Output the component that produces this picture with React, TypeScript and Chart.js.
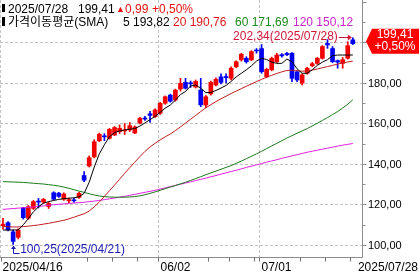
import React, { useEffect, useRef } from "react";
import { Chart, registerables } from "chart.js";

Chart.register(...registerables);

// ---------- data ----------
const dates = [
  "2025/04/16", "2025/04/17", "2025/04/21", "2025/04/22", "2025/04/23", "2025/04/24", "2025/04/25", "2025/04/28", "2025/04/29", "2025/04/30",
  "2025/05/01", "2025/05/02", "2025/05/05", "2025/05/06", "2025/05/07", "2025/05/08", "2025/05/09", "2025/05/12", "2025/05/13", "2025/05/14",
  "2025/05/15", "2025/05/16", "2025/05/19", "2025/05/20", "2025/05/21", "2025/05/22", "2025/05/23", "2025/05/27", "2025/05/28", "2025/05/29",
  "2025/05/30", "2025/06/02", "2025/06/03", "2025/06/04", "2025/06/05", "2025/06/06", "2025/06/09", "2025/06/10", "2025/06/11", "2025/06/12",
  "2025/06/13", "2025/06/16", "2025/06/17", "2025/06/18", "2025/06/20", "2025/06/23", "2025/06/24", "2025/06/25", "2025/06/26", "2025/06/27",
  "2025/06/30", "2025/07/01", "2025/07/02", "2025/07/03", "2025/07/07", "2025/07/08", "2025/07/09", "2025/07/10", "2025/07/11", "2025/07/14",
  "2025/07/15", "2025/07/16", "2025/07/17", "2025/07/18", "2025/07/21", "2025/07/22", "2025/07/23", "2025/07/24", "2025/07/25", "2025/07/28",
];

const opens = [
  109.5, 111.0, 106.5, 103.8, 118.3, 113.2, 118.1, 121.6, 121.2, 119.0,
  125.8, 125.6, 122.6, 121.8, 122.2, 123.5, 134.3, 139.0, 143.5, 151.5,
  153.8, 152.7, 154.3, 156.0, 156.3, 156.8, 155.3, 160.2, 162.6, 164.8,
  163.4, 165.0, 170.0, 174.0, 171.6, 177.0, 180.3, 180.0, 178.0, 176.5,
  169.1, 174.6, 179.0, 183.0, 183.2, 182.3, 188.0, 191.4, 192.2, 191.4,
  196.3, 197.0, 183.1, 186.5, 190.5, 194.0, 194.6, 194.7, 185.5, 179.9,
  184.8, 188.5, 189.7, 192.2, 199.5, 197.0, 191.0, 189.7, 192.2, 201.3,
];
const highs = [
  113.2, 111.5, 107.5, 108.0, 118.6, 119.5, 122.0, 123.0, 123.0, 121.3,
  126.3, 126.0, 125.8, 123.2, 123.0, 126.0, 136.2, 144.0, 152.0, 155.3,
  155.0, 157.6, 158.5, 159.3, 160.0, 160.5, 158.8, 163.0, 163.5, 166.0,
  167.2, 170.5, 173.6, 174.5, 177.0, 182.3, 182.3, 181.0, 181.5, 182.3,
  173.8, 181.0, 182.6, 184.5, 184.5, 188.0, 191.0, 194.7, 193.0, 196.0,
  197.0, 199.0, 187.3, 192.8, 194.7, 194.5, 195.2, 195.0, 186.0, 184.5,
  187.8, 190.2, 192.7, 198.5, 201.4, 198.0, 191.4, 192.6, 200.4, 202.34,
];
const lows = [
  107.8, 107.0, 100.25, 103.0, 112.8, 112.7, 117.5, 118.3, 120.5, 118.0,
  122.3, 123.5, 122.0, 120.9, 121.0, 123.0, 131.3, 138.5, 143.0, 151.0,
  151.5, 152.3, 154.0, 155.0, 154.5, 156.0, 155.0, 159.8, 161.5, 160.5,
  163.0, 164.5, 169.5, 170.5, 171.0, 176.0, 177.0, 177.8, 177.5, 168.3,
  167.8, 174.0, 178.5, 179.5, 180.0, 181.5, 187.5, 190.8, 189.8, 191.0,
  194.7, 184.8, 182.6, 186.0, 190.0, 192.8, 193.5, 180.6, 180.6, 179.0,
  184.3, 188.0, 189.2, 191.8, 197.1, 190.0, 187.3, 187.3, 191.8, 199.0,
];
const closes = [
  110.3, 107.5, 101.8, 107.4, 113.5, 118.9, 121.4, 121.2, 122.5, 120.5,
  122.6, 124.0, 125.2, 122.4, 121.8, 125.5, 132.0, 143.1, 151.0, 154.7,
  153.4, 157.1, 158.0, 157.6, 156.7, 158.9, 158.3, 162.6, 162.2, 164.0,
  166.7, 170.0, 173.2, 171.0, 176.5, 179.8, 177.4, 179.6, 180.8, 169.2,
  173.2, 180.4, 181.8, 180.3, 182.6, 187.3, 190.5, 194.2, 190.5, 195.5,
  195.8, 185.6, 186.7, 192.2, 193.8, 193.4, 194.0, 182.3, 181.5, 184.0,
  187.3, 189.5, 192.2, 198.0, 198.8, 190.5, 190.3, 191.5, 198.42, 199.41,
];

const ma5 = [
  107.4, 107.4, 107.4, 107.4, 110.0, 113.0, 116.4, 118.8, 120.7, 121.4,
  122.0, 122.5, 122.9, 123.1, 123.3, 123.8, 125.5, 131.0, 138.5, 145.0,
  149.5, 153.5, 155.5, 156.3, 156.8, 157.2, 157.5, 158.7, 160.3, 161.9,
  163.5, 165.5, 167.6, 169.1, 171.5, 174.3, 175.8, 178.5, 179.0, 177.4,
  175.3, 175.3, 176.3, 177.5, 178.8, 180.8, 183.0, 184.8, 186.5, 188.5,
  190.8, 192.2, 191.6, 190.3, 189.7, 189.7, 191.8, 190.5, 187.0, 184.8,
  184.8, 186.5, 188.7, 190.3, 191.5, 193.5, 193.8, 193.8, 193.8, 193.82,
];
const ma20 = [
  109.2, 109.0, 108.9, 108.9, 109.1, 109.3, 109.6, 109.9, 110.3, 110.7,
  111.2, 111.7, 112.2, 112.9, 113.7, 114.6, 115.4, 116.8, 118.8, 121.2,
  124.0, 126.8, 129.6, 132.5, 135.4, 138.2, 140.9, 143.6, 146.2, 148.4,
  150.2, 151.9, 153.4, 154.8, 156.5, 158.3, 160.2, 162.1, 164.0, 165.9,
  167.7, 169.3, 170.8, 172.2, 173.5, 174.8, 176.0, 177.2, 178.4, 179.5,
  180.7, 181.8, 182.8, 183.8, 184.7, 185.5, 186.2, 186.3, 186.0, 185.8,
  186.0, 186.4, 186.9, 187.5, 188.1, 188.7, 189.3, 189.9, 190.4, 190.76,
];
const ma60 = [
  131.3, 131.2, 131.1, 131.0, 130.9, 130.7, 130.5, 130.3, 130.1, 129.8,
  129.5, 129.1, 128.6, 128.0, 127.3, 126.6, 126.0, 125.3, 124.7, 124.2,
  123.9, 123.7, 123.6, 123.6, 123.6, 123.7, 123.9, 124.3, 124.8, 125.5,
  126.2, 127.0, 127.8, 128.6, 129.4, 130.2, 131.0, 131.9, 132.8, 133.7,
  134.7, 135.6, 136.5, 137.4, 138.3, 139.2, 140.3, 141.4, 142.6, 143.8,
  145.0, 146.3, 147.6, 148.9, 150.2, 151.5, 152.8, 154.0, 155.2, 156.3,
  157.5, 158.8, 160.1, 161.5, 162.9, 164.4, 165.9, 167.6, 169.5, 171.69,
];
const ma120 = [
  117.6, 117.8, 118.0, 118.2, 118.4, 118.6, 118.8, 119.0, 119.3, 119.6,
  119.9, 120.1, 120.3, 120.5, 120.7, 120.9, 121.1, 121.4, 121.7, 122.0,
  122.4, 122.8, 123.2, 123.6, 124.0, 124.5, 125.0, 125.5, 126.0, 126.5,
  127.0, 127.6, 128.2, 128.8, 129.4, 130.0, 130.6, 131.2, 131.8, 132.4,
  133.0, 133.7, 134.3, 135.0, 135.6, 136.3, 136.9, 137.6, 138.3, 138.9,
  139.6, 140.2, 140.9, 141.5, 142.1, 142.8, 143.4, 144.0, 144.6, 145.2,
  145.8, 146.3, 146.8, 147.3, 147.8, 148.3, 148.8, 149.3, 149.7, 150.12,
];

const maPeriods = [5, 20, 60, 120];
const yTickValues = [100, 120, 140, 160, 180, 200];
const xLabelDates = ["2025/04/16", "2025/06/02", "2025/07/01", "2025/07/28"];
const xLabelTexts = ["2025/04/16", "06/02", "07/01", "2025/07/28"];
const headerTitle = "가격이동평균(SMA)";

// ---------- style ----------
const W = 419;
const H = 275;
const FONT = "'Liberation Sans', 'DejaVu Sans', 'Noto Sans CJK KR', sans-serif";
const UP = "#f20000";
const DOWN = "#0000f0";
const maLineColors = ["#000000", "#c01c1c", "#1a7a1a", "#e020e0"];
const maTextColors = ["#000000", "#d81818", "#1a8a1a", "#cc22cc"];

const fmt = (v: number) => v.toFixed(2).replace(".", ",");

const decorPlugin = {
  id: "decor",
  beforeDatasetsDraw(chart: any) {
    const { ctx, chartArea: a } = chart;
    const x = chart.scales.x;
    const y = chart.scales.y;
    ctx.save();
    ctx.strokeStyle = "#c4c4c4";
    ctx.lineWidth = 1;
    ctx.setLineDash([3, 2]);
    ctx.beginPath();
    for (const v of yTickValues) {
      const py = Math.round(y.getPixelForValue(v)) + 0.5;
      ctx.moveTo(a.left, py);
      ctx.lineTo(a.right, py);
    }
    for (const d of xLabelDates.slice(0, xLabelDates.length - 1)) {
      const i = dates.indexOf(d);
      const px = Math.round(x.getPixelForValue(i - 0.5)) + 0.5;
      ctx.moveTo(px, a.top);
      ctx.lineTo(px, a.bottom);
    }
    ctx.stroke();
    ctx.restore();
  },
  afterDraw(chart: any) {
    const { ctx, chartArea: a } = chart;
    const x = chart.scales.x;
    const y = chart.scales.y;
    const last = closes.length - 1;
    ctx.save();
    ctx.setLineDash([]);
    ctx.lineWidth = 1;

    // axes lines and y ticks
    const ax = a.right + 0.5;
    const ay = a.bottom + 0.5;
    ctx.strokeStyle = "#8c8c8c";
    ctx.beginPath();
    ctx.moveTo(a.left, ay);
    ctx.lineTo(ax, ay);
    ctx.moveTo(ax, a.top);
    ctx.lineTo(ax, ay);
    for (let v = 100; v <= 220; v += 10) {
      const py = Math.round(y.getPixelForValue(v)) + 0.5;
      if (py < a.top || py > a.bottom) continue;
      const len = v % 20 === 0 ? 4 : 3;
      ctx.moveTo(ax, py);
      ctx.lineTo(ax + len, py);
    }
    ctx.stroke();

    // y labels
    ctx.fillStyle = "#000";
    ctx.font = `11px ${FONT}`;
    ctx.textAlign = "left";
    ctx.textBaseline = "middle";
    for (const v of yTickValues) {
      ctx.fillText(fmt(v), a.right + 6, Math.round(y.getPixelForValue(v)) + 1);
    }

    // x labels
    ctx.font = `12px ${FONT}`;
    ctx.textBaseline = "alphabetic";
    const spans: number[][] = [];
    ctx.beginPath();
    xLabelDates.forEach((d, k) => {
      const i = dates.indexOf(d);
      const px = Math.round(x.getPixelForValue(i - 0.5)) + 0.5;
      const t = xLabelTexts[k];
      const w = ctx.measureText(t).width;
      let tx = px + 2;
      if (k === 0) tx = 2.5;
      if (k === xLabelDates.length - 1) tx = W - 1 - w;
      ctx.fillText(t, tx, 271);
      spans.push([tx - 6, tx + w + 3]);
      if (k < xLabelDates.length - 1) {
        ctx.moveTo(Math.max(px, 1.5), ay);
        ctx.lineTo(Math.max(px, 1.5), ay + 4);
      }
    });
    for (let i = 1; i < dates.length; i++) {
      const prev = new Date(dates[i - 1]).getDay();
      const cur = new Date(dates[i]).getDay();
      if (cur >= prev) continue;
      const px = Math.round(x.getPixelForValue(i - 0.5)) + 0.5;
      if (spans.some(([s, e]) => px >= s && px <= e)) continue;
      ctx.moveTo(px, ay);
      ctx.lineTo(px, ay + 4);
    }
    ctx.strokeStyle = "#707070";
    ctx.stroke();

    // high annotation
    let hi = 0;
    highs.forEach((v, i) => { if (v > highs[hi]) hi = i; });
    let lo = 0;
    lows.forEach((v, i) => { if (v < lows[lo]) lo = i; });
    const hx = x.getPixelForValue(hi);
    const hy = y.getPixelForValue(highs[hi]);
    ctx.fillStyle = "#d2143a";
    ctx.strokeStyle = "#d2143a";
    ctx.font = `12px ${FONT}`;
    ctx.textAlign = "right";
    ctx.textBaseline = "middle";
    ctx.fillText(`${fmt(highs[hi])}(${dates[hi]})`, hx - 15, hy - 1);
    const ary = Math.round(hy - 1) + 0.5;
    ctx.beginPath();
    ctx.moveTo(hx - 14, ary);
    ctx.lineTo(hx - 3, ary);
    ctx.stroke();
    ctx.beginPath();
    ctx.moveTo(hx - 1, ary);
    ctx.lineTo(hx - 5, ary - 3);
    ctx.lineTo(hx - 5, ary + 3);
    ctx.closePath();
    ctx.fill();

    // low annotation
    const lx = x.getPixelForValue(lo);
    const ly = y.getPixelForValue(lows[lo]);
    const vx = Math.round(lx) + 0.5;
    ctx.fillStyle = "#1c1cb4";
    ctx.strokeStyle = "#1c1cb4";
    ctx.beginPath();
    ctx.moveTo(vx, ly + 4);
    ctx.lineTo(vx, Math.round(ly + 9) + 0.5);
    ctx.lineTo(vx + 6, Math.round(ly + 9) + 0.5);
    ctx.stroke();
    ctx.beginPath();
    ctx.moveTo(vx, ly + 1);
    ctx.lineTo(vx - 2.5, ly + 4.5);
    ctx.lineTo(vx + 2.5, ly + 4.5);
    ctx.closePath();
    ctx.fill();
    ctx.textAlign = "left";
    ctx.fillText(`${fmt(lows[lo])}(${dates[lo]})`, lx + 7, ly + 5);

    // price box
    const chg = closes[last] - closes[last - 1];
    const pct = (chg / closes[last - 1]) * 100;
    const sign = chg >= 0 ? "+" : "-";
    const cy = y.getPixelForValue(closes[last]) - 2.5;
    ctx.fillStyle = chg >= 0 ? "#ff0000" : "#0000ff";
    ctx.beginPath();
    ctx.moveTo(a.right + 4, cy);
    ctx.lineTo(a.right + 10, cy - 12.5);
    ctx.lineTo(W, cy - 12.5);
    ctx.lineTo(W, cy + 12.5);
    ctx.lineTo(a.right + 10, cy + 12.5);
    ctx.closePath();
    ctx.fill();
    ctx.fillStyle = "#ffffff";
    ctx.textAlign = "center";
    ctx.textBaseline = "middle";
    ctx.fillText(fmt(closes[last]), 395, cy - 6);
    ctx.fillText(`${sign}${fmt(Math.abs(pct))}%`, 395, cy + 6);

    // header
    ctx.textAlign = "left";
    ctx.textBaseline = "alphabetic";
    ctx.font = `12px ${FONT}`;
    ctx.fillStyle = "#000";
    ctx.fillRect(2, 4, 3, 8);
    ctx.fillRect(2, 17, 3, 9);
    ctx.fillText(dates[last], 8, 12.5);
    ctx.fillText(fmt(closes[last]), 78, 12.5);
    ctx.fillStyle = chg >= 0 ? "#e81010" : "#1010e8";
    ctx.font = `9px ${FONT}`;
    ctx.fillText(chg >= 0 ? "▲" : "▼", 116, 12);
    ctx.font = `12px ${FONT}`;
    ctx.fillText(fmt(Math.abs(chg)), 125, 12.5);
    ctx.fillText(`${sign}${fmt(Math.abs(pct))}%`, 152, 12.5);
    ctx.fillStyle = "#000";
    ctx.fillText(headerTitle, 8, 25.5);
    const mas = [ma5, ma20, ma60, ma120];
    const hx2 = [123, 173, 235, 293];
    mas.forEach((m, k) => {
      ctx.fillStyle = maTextColors[k];
      ctx.fillText(`${maPeriods[k]} ${fmt(m[m.length - 1])}`, hx2[k], 25.5);
    });

    ctx.restore();
  },
};

export default function App() {
  const ref = useRef<HTMLCanvasElement>(null);

  useEffect(() => {
    const canvas = ref.current;
    if (!canvas) return;
    const candleColors = closes.map((c, i) => (c >= opens[i] ? UP : DOWN));
    const lineSets = [ma5, ma20, ma60, ma120].map((m, k) => ({
      type: "line",
      label: `MA${maPeriods[k]}`,
      data: m.map((v, i) => ({ x: i, y: v })),
      borderColor: maLineColors[k],
      borderWidth: 1,
      pointRadius: 0,
      fill: false,
      tension: 0,
      order: 0,
    }));
    const chart = new Chart(canvas, {
      type: "bar",
      data: {
        datasets: [
          ...lineSets,
          {
            type: "bar",
            label: "body",
            data: opens.map((o, i) => ({ x: i, y: [o, closes[i]] })),
            backgroundColor: candleColors,
            borderWidth: 0,
            barThickness: 4,
            minBarLength: 1,
            grouped: false,
            order: 1,
          },
          {
            type: "bar",
            label: "wick",
            data: lows.map((l, i) => ({ x: i, y: [l, highs[i]] })),
            backgroundColor: candleColors,
            borderWidth: 0,
            barThickness: 1,
            grouped: false,
            order: 2,
          },
        ] as any,
      },
      options: {
        animation: false,
        responsive: false,
        maintainAspectRatio: false,
        events: [],
        layout: { padding: { left: 0, top: 0, right: 57, bottom: 18 } },
        plugins: { legend: { display: false }, tooltip: { enabled: false } },
        scales: {
          x: { type: "linear", min: -0.59, max: 70.81, display: false, offset: false },
          y: { type: "linear", min: 94.07, max: 220.98, display: false },
        },
      } as any,
      plugins: [decorPlugin],
    });
    return () => chart.destroy();
  }, []);

  return (
    <div style={{ position: "absolute", left: 0, top: 0, width: W, height: H, background: "#fff" }}>
      <canvas ref={ref} width={W} height={H} style={{ display: "block", width: W, height: H }} />
    </div>
  );
}
